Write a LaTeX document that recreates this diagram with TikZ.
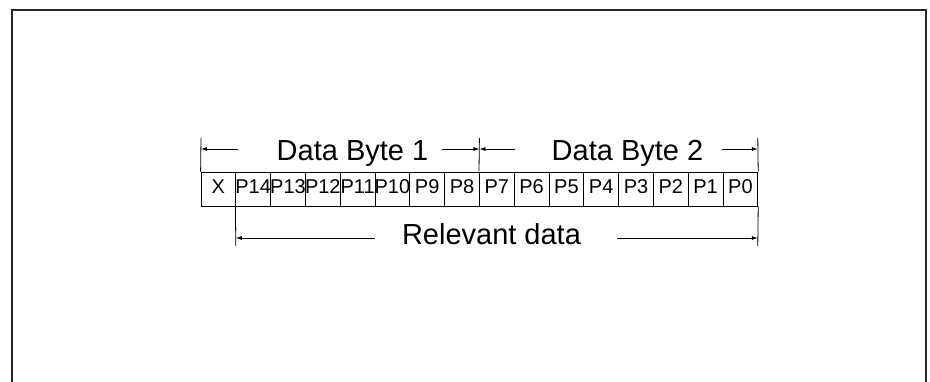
\documentclass[tikz,border=0pt]{standalone}
\usepackage{fontspec}
\setmainfont{Liberation Sans}
\usetikzlibrary{arrows.meta}
\begin{document}
\begin{tikzpicture}[x=1pt,y=-1pt,
  cellbox/.style={draw=black, line width=0.8pt, minimum width=34.8pt, minimum height=34pt, inner sep=0pt},
  celltext/.style={anchor=base, inner sep=0pt, font=\fontsize{20}{20}\selectfont},
  dimtext/.style={anchor=base, inner sep=0pt, font=\fontsize{29}{29}\selectfont},
  extline/.style={line width=0.8pt},
  dimarrow/.style={line width=0.8pt, -{Latex[length=6pt,width=4pt]}},
  frameline/.style={line width=2.2pt, draw=black!85}
]
\useasboundingbox (0,0) rectangle (930,382);
\fill[white] (0,0) rectangle (930,382);
% outer frame
\coordinate (fbl) at (12,383);
\coordinate (ftl) at (12,10);
\coordinate (ftr) at (926,10);
\coordinate (fbr) at (926,383);
\draw[frameline] (fbl) -- (ftl) -- (ftr) -- (fbr);

% cells
\foreach \t [count=\i from 0] in {X,P14,P13,P12,P11,P10,P9,P8,P7,P6,P5,P4,P3,P2,P1,P0} {
  \node[cellbox] (c\i) at ({201+34.8*(\i+0.5)},189) {};
  \node[celltext] (l\i) at ({201+34.8*(\i+0.5)},194) {\t};
}

% extension lines (top)
\coordinate (e0t) at (201,138);
\coordinate (e8t) at (479.4,138);
\coordinate (e16t) at (757.8,138);
\draw[extline] (e0t) -- (c0.north west);
\draw[extline] (e8t) -- (c8.north west);
\draw[extline] (e16t) -- (c15.north east);

% extension lines (bottom)
\coordinate (e1b) at (235.8,246);
\coordinate (e16b) at (757.8,246);
\draw[extline] (c1.south west) -- (e1b);
\draw[extline] (c15.south east) -- (e16b);

% labels
\node[dimtext] (t1) at (352.5,161) {Data Byte 1};
\node[dimtext] (t2) at (627.5,161) {Data Byte 2};
\node[dimtext] (t3) at (491.5,245) {Relevant data};

% dimension lines (top)
\coordinate (d0) at (201,149);
\coordinate (d0s) at (238,149);
\coordinate (d1s) at (442,149);
\coordinate (d8) at (479.4,149);
\coordinate (d2s) at (515,149);
\coordinate (d3s) at (722,149);
\coordinate (d16) at (757.8,149);
\draw[dimarrow] (d0s) -- (d0);
\draw[dimarrow] (d1s) -- (d8);
\draw[dimarrow] (d2s) -- (d8);
\draw[dimarrow] (d3s) -- (d16);

% dimension lines (bottom)
\coordinate (b1) at (235.8,238);
\coordinate (b1s) at (375,238);
\coordinate (b2s) at (617,238);
\coordinate (b16) at (757.8,238);
\draw[dimarrow] (b1s) -- (b1);
\draw[dimarrow] (b2s) -- (b16);
\end{tikzpicture}
\end{document}
